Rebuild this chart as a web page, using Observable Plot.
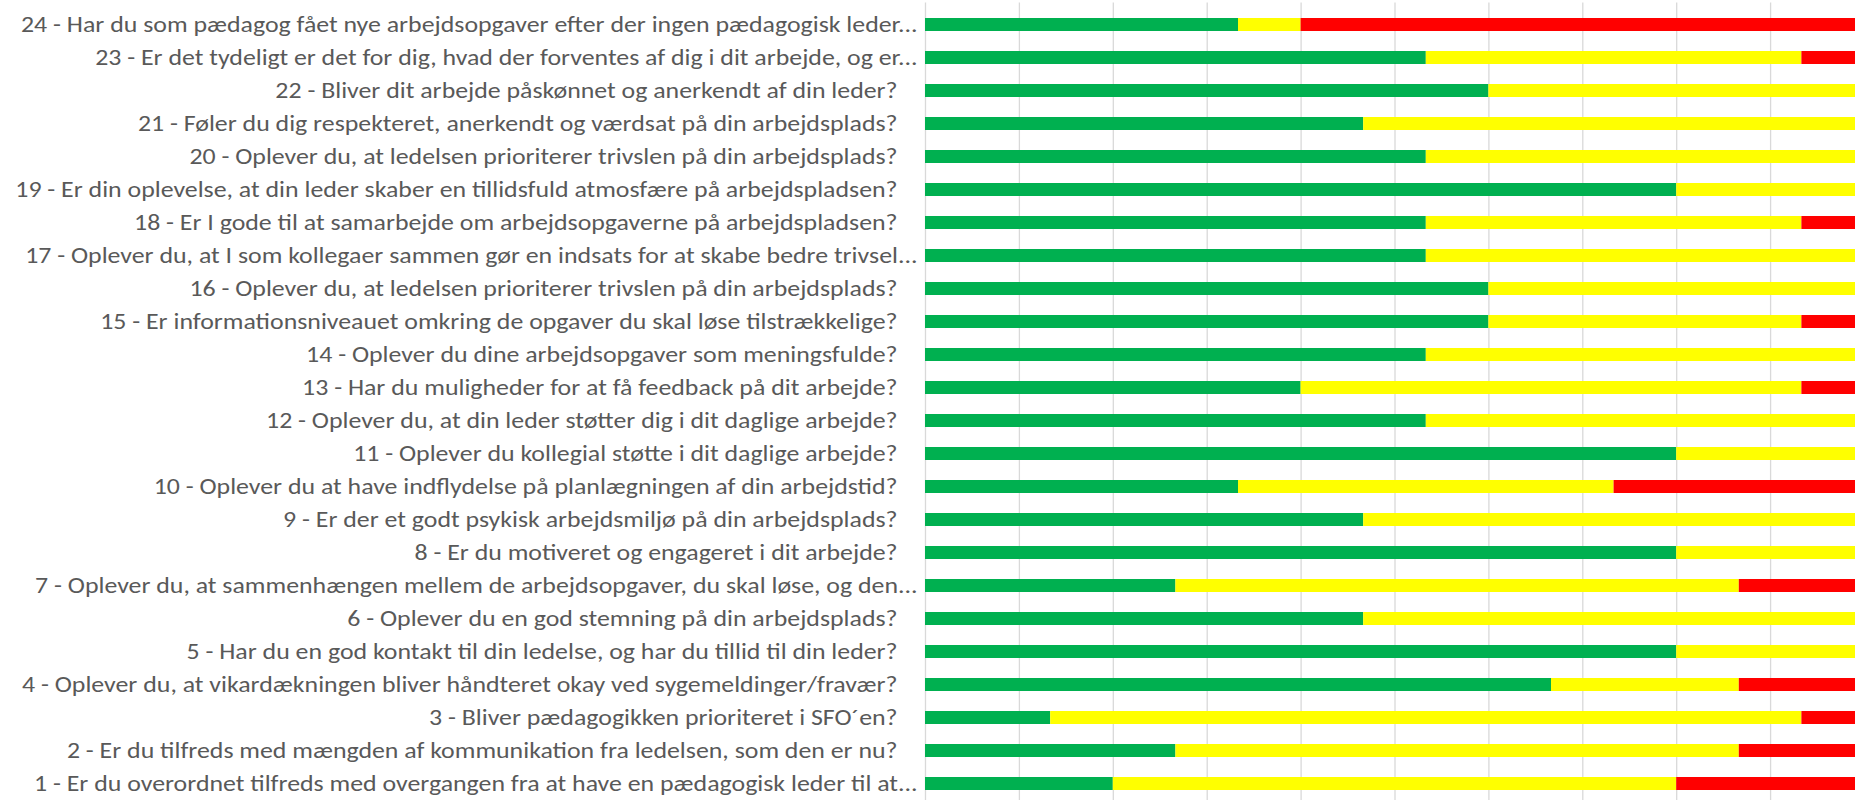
<!DOCTYPE html>
<html><head><meta charset="utf-8">
<script src="https://cdn.jsdelivr.net/npm/d3@7"></script>
<script src="https://cdn.jsdelivr.net/npm/@observablehq/plot@0.6"></script>
<style>
html,body{margin:0;padding:0;background:#fff;overflow:hidden;}
</style></head><body><div id="chart"></div>
<script>
// Questions 1..24
const questions = [
  "1 - Er du overordnet tilfreds med overgangen fra at have en pædagogisk leder til at...",
  "2 - Er du tilfreds med mængden af kommunikation fra ledelsen, som den er nu?",
  "3 - Bliver pædagogikken prioriteret i SFO´en?",
  "4 - Oplever du, at vikardækningen bliver håndteret okay ved sygemeldinger/fravær?",
  "5 - Har du en god kontakt til din ledelse, og har du tillid til din leder?",
  "6 - Oplever du en god stemning på din arbejdsplads?",
  "7 - Oplever du, at sammenhængen mellem de arbejdsopgaver, du skal løse, og den...",
  "8 - Er du motiveret og engageret i dit arbejde?",
  "9 - Er der et godt psykisk arbejdsmiljø på din arbejdsplads?",
  "10 - Oplever du at have indflydelse på planlægningen af din arbejdstid?",
  "11 - Oplever du kollegial støtte i dit daglige arbejde?",
  "12 - Oplever du, at din leder støtter dig i dit daglige arbejde?",
  "13 - Har du muligheder for at få feedback på dit arbejde?",
  "14 - Oplever du dine arbejdsopgaver som meningsfulde?",
  "15 - Er informationsniveauet omkring de opgaver du skal løse tilstrækkelige?",
  "16 - Oplever du, at ledelsen prioriterer trivslen på din arbejdsplads?",
  "17 - Oplever du, at I som kollegaer sammen gør en indsats for at skabe bedre trivsel...",
  "18 - Er I gode til at samarbejde om arbejdsopgaverne på arbejdspladsen?",
  "19 - Er din oplevelse, at din leder skaber en tillidsfuld atmosfære på arbejdspladsen?",
  "20 - Oplever du, at ledelsen prioriterer trivslen på din arbejdsplads?",
  "21 - Føler du dig respekteret, anerkendt og værdsat på din arbejdsplads?",
  "22 - Bliver dit arbejde påskønnet og anerkendt af din leder?",
  "23 - Er det tydeligt er det for dig, hvad der forventes af dig i dit arbejde, og er...",
  "24 - Har du som pædagog fået nye arbejdsopgaver efter der ingen pædagogisk leder..."
];
// answer counts per question (1..24)
const green  = [3, 4, 2, 10, 12, 7, 4, 12, 7, 5, 12, 8, 6, 8, 9, 9, 8, 8, 12, 8, 7, 9, 8, 5];
const yellow = [9, 9, 12, 3, 3, 8, 9, 3, 8, 6, 3, 7, 8, 7, 5, 6, 7, 6, 3, 7, 8, 6, 6, 1];
const red    = [3, 2, 1, 2, 0, 0, 2, 0, 0, 4, 0, 0, 1, 0, 1, 0, 0, 1, 0, 0, 0, 0, 1, 9];
const categories = ["Grøn", "Gul", "Rød"];
const colors = ["#00B050", "#FFFF00", "#FF0000"];
const xTicks = [0, 0.1, 0.2, 0.3, 0.4, 0.5, 0.6, 0.7, 0.8, 0.9, 1.0];

const series = [green, yellow, red];
const rows = questions.flatMap((q, i) => categories.map((c, j) => ({question: q, category: c, value: series[j][i]})));
const yDomain = questions.slice().reverse();
const ellip = questions.filter(q => q.endsWith("..."));
const plain = questions.filter(q => !q.endsWith("..."));
const font = "Calibri, Carlito, 'Liberation Sans Narrow', 'DejaVu Sans Condensed', sans-serif";
const dxPlain = -28, dxEllip = -8, stretch = 1.175;

const chart = Plot.plot({
  width: 1855,
  height: 805,
  marginLeft: 925,
  marginRight: 0,
  marginTop: 2.6,
  marginBottom: 0,
  style: {background: "#fff", overflow: "hidden"},
  x: {domain: [0, 930 / 939], axis: null},
  y: {domain: yDomain, paddingInner: 0.6, paddingOuter: 0.3, axis: null},
  color: {domain: categories, range: colors},
  marks: [
    Plot.ruleX(xTicks, {stroke: "#d9d9d9", strokeWidth: 1.3}),
    Plot.barX(rows, Plot.stackX({x: "value", y: "question", fill: "category", z: "category", order: categories, offset: "normalize", clip: true})),
    Plot.text(plain, {x: 0, y: d => d, text: d => d, textAnchor: "end", dx: dxPlain, fontSize: 22, fontFamily: font, fill: "#595959"}),
    Plot.text(ellip, {x: 0, y: d => d, text: d => d, textAnchor: "end", dx: dxEllip, fontSize: 22, fontFamily: font, fill: "#595959"})
  ]
});
// widen label groups horizontally around their right anchor
const x0 = chart.scale("x").apply(0);
const groups = chart.querySelectorAll('g[aria-label="text"]');
[dxPlain, dxEllip].forEach((dx, i) => {
  const g = groups[i];
  if (!g) return;
  const X = x0 + dx;
  const wrap = document.createElementNS("http://www.w3.org/2000/svg", "g");
  wrap.setAttribute("transform", `translate(${X},0) scale(${stretch},1) translate(${-X},0)`);
  g.replaceWith(wrap);
  wrap.append(g);
});
document.getElementById("chart").append(chart);
</script>
</body></html>
